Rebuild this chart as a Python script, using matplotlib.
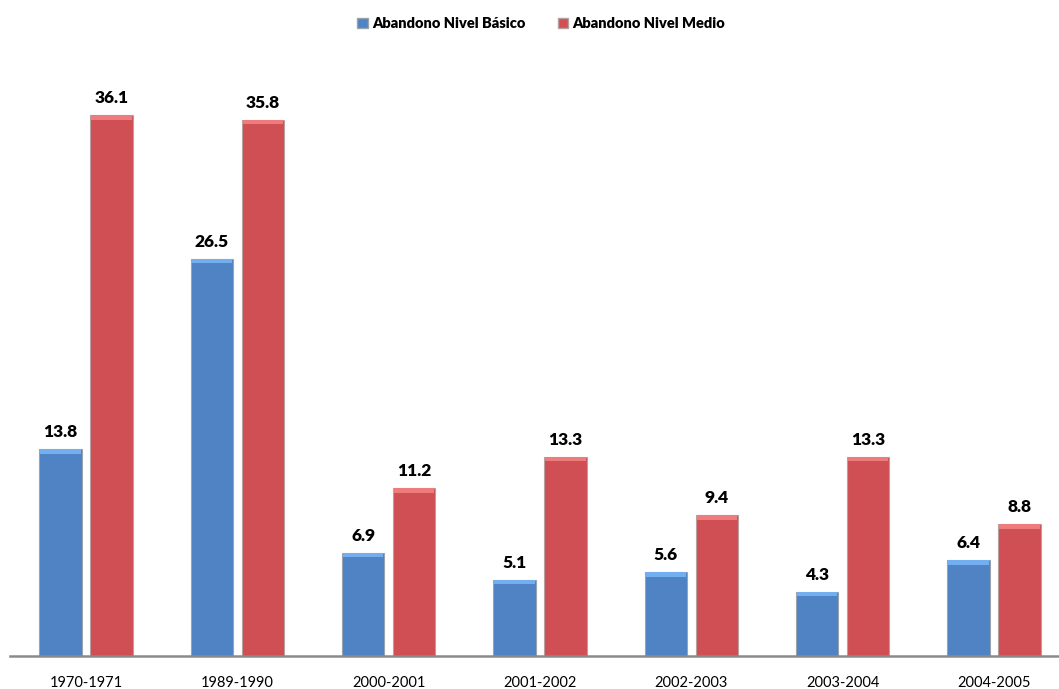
import numpy as np
import matplotlib
matplotlib.use('Agg')
import matplotlib.pyplot as plt
from matplotlib.patches import Patch

periodos = ['1970-1971', '1989-1990', '2000-2001', '2001-2002',
            '2002-2003', '2003-2004', '2004-2005']
basico = [13.8, 26.5, 6.9, 5.1, 5.6, 4.3, 6.4]
medio = [36.1, 35.8, 11.2, 13.3, 9.4, 13.3, 8.8]

azul = '#4f83c4'
rojo = '#cf4f55'

plt.rcParams['font.family'] = ['Lato', 'DejaVu Sans']

fig = plt.figure(figsize=(10.59, 6.89), dpi=100)
ax = fig.add_axes([0.0098, 0.0479, 1.0003, 0.870])

x = np.arange(len(periodos))
ancho = 0.28
desp = 0.169

barras1 = ax.bar(x - desp, basico, ancho, color=azul, edgecolor='#9aa4b0', linewidth=0.8)
barras2 = ax.bar(x + desp, medio, ancho, color=rojo, edgecolor='#b8a0a0', linewidth=0.8)

# tapa clara arriba de cada barra (efecto 3d del original)
ax.bar(x - desp, [0.3] * len(x), ancho * 0.95, bottom=np.array(basico) - 0.3, color='#72aef0', linewidth=0)
ax.bar(x + desp, [0.3] * len(x), ancho * 0.95, bottom=np.array(medio) - 0.3, color='#ee7c7c', linewidth=0)

for b, v in zip(barras1, basico):
    ax.text(b.get_x() + b.get_width() / 2, v + 0.6, '%.1f' % v,
            ha='center', va='bottom', fontsize=12.5, fontweight='heavy')
for b, v in zip(barras2, medio):
    ax.text(b.get_x() + b.get_width() / 2, v + 0.6, '%.1f' % v,
            ha='center', va='bottom', fontsize=12.5, fontweight='heavy')

ax.set_xlim(-0.5, len(periodos) - 0.5)
ax.set_ylim(0, 40)
ax.set_xticks(x)
ax.set_xticklabels(periodos, fontsize=10.5)
ax.tick_params(axis='x', length=0, pad=14.5)
ax.set_yticks([])
for lado in ['top', 'right', 'left']:
    ax.spines[lado].set_visible(False)
ax.spines['bottom'].set_color('#8a8a8a')
ax.spines['bottom'].set_linewidth(1.8)

manejadores = [Patch(facecolor=azul, edgecolor='#9aa4b0', label='Abandono Nivel Básico'),
               Patch(facecolor=rojo, edgecolor='#b8a0a0', label='Abandono Nivel Medio')]
fig.legend(handles=manejadores, loc='center', bbox_to_anchor=(0.511, 0.966), ncol=2,
           frameon=False, prop={'weight': 'heavy', 'size': 10.5},
           handlelength=0.7, handleheight=0.7, handletextpad=0.3, columnspacing=2.2)

fig.savefig('out.png', dpi=100)
